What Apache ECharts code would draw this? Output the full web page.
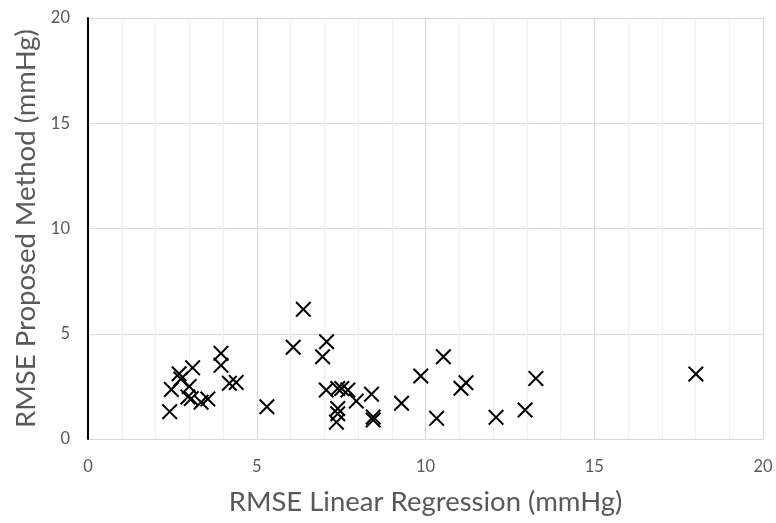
<!DOCTYPE html>
<html>
<head>
<meta charset="utf-8">
<script src="https://cdn.jsdelivr.net/npm/echarts@6/dist/echarts.min.js"></script>
<style>
  html, body { margin: 0; padding: 0; background: #fff; }
  #chart { width: 776px; height: 523px; }
</style>
</head>
<body>
<div id="chart"></div>
<script>
// RMSE of the linear regression baseline (x) vs. the proposed method (y), mmHg
const rmseLinear = [
  2.42, 2.47, 2.70, 2.75, 3.00, 3.10, 2.96, 3.06, 3.35, 3.55,
  3.94, 3.94, 4.19, 4.39, 5.30, 6.08, 6.38, 6.95, 7.07, 7.06,
  7.40, 7.52, 7.70, 7.95, 7.40, 7.40, 7.36, 8.40, 8.45, 8.45,
  9.29, 9.86, 10.53, 10.33, 11.20, 11.05, 12.09, 12.95, 13.27, 18.01
];
const rmseProposed = [
  1.30, 2.35, 3.10, 2.85, 2.50, 3.38, 2.00, 1.92, 1.75, 1.90,
  4.07, 3.50, 2.65, 2.69, 1.53, 4.36, 6.16, 3.91, 4.62, 2.33,
  2.40, 2.40, 2.33, 1.80, 1.45, 1.20, 0.80, 2.13, 1.05, 0.90,
  1.70, 2.99, 3.91, 0.98, 2.67, 2.41, 1.03, 1.38, 2.88, 3.09
];
const xTitle = 'RMSE Linear Regression (mmHg)';
const yTitle = 'RMSE Proposed Method (mmHg)';

const points = rmseLinear.map((x, i) => [x, rmseProposed[i]]);

// Cross-shaped marker as a filled outline
const crossSymbol = 'path://M0,9L9,0L50,41L91,0L100,9L59,50L100,91L91,100L50,59L9,100L0,91L41,50Z';

const labelColor = '#595959';
const fontFamily = 'Lato, "Open Sans", sans-serif';

const chart = echarts.init(document.getElementById('chart'), null, { renderer: 'canvas' });
chart.setOption({
  animation: false,
  backgroundColor: '#ffffff',
  grid: { left: 88, right: 13, top: 18, bottom: 84, containLabel: false },
  xAxis: {
    type: 'value',
    min: 0, max: 20, interval: 5,
    name: xTitle,
    nameLocation: 'middle',
    nameGap: 49,
    nameTextStyle: { color: labelColor, fontSize: 27.5, fontFamily },
    axisLine: { show: false },
    axisTick: { show: false },
    axisLabel: { color: labelColor, fontSize: 16.5, fontFamily, margin: 19 },
    splitLine: { show: true, lineStyle: { color: '#d9d9d9', width: 1.2 } },
    minorTick: { show: false, splitNumber: 5 },
    minorSplitLine: { show: true, lineStyle: { color: '#efefef', width: 1.2 } }
  },
  yAxis: {
    type: 'value',
    min: 0, max: 20, interval: 5,
    name: yTitle,
    nameLocation: 'middle',
    nameGap: 43,
    nameRotate: 90,
    nameTextStyle: { color: labelColor, fontSize: 27.5, fontFamily },
    axisLine: { show: true, onZero: false, lineStyle: { color: '#000000', width: 2 } },
    axisTick: { show: false },
    axisLabel: { color: labelColor, fontSize: 16.5, fontFamily, margin: 18 },
    splitLine: { show: true, lineStyle: { color: '#d9d9d9', width: 1.2 } }
  },
  series: [{
    type: 'scatter',
    data: points,
    symbol: crossSymbol,
    symbolSize: 16,
    itemStyle: { color: '#000000', opacity: 1 },
    emphasis: { disabled: true }
  }]
});
</script>
</body>
</html>
